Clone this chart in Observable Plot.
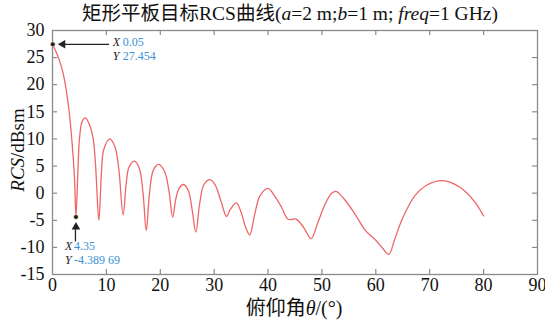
<!DOCTYPE html>
<html>
<head>
<meta charset="utf-8">
<script src="https://cdn.jsdelivr.net/npm/d3@7"></script>
<script src="https://cdn.jsdelivr.net/npm/@observablehq/plot@0.6"></script>
<style>
  html, body { margin: 0; padding: 0; background: #fff; }
  #chart { width: 545px; height: 325px; }
</style>
</head>
<body>
<div id="chart"></div>
<script>
// Pitch angle (deg) and RCS (dBsm)
const angles = [0, 1.1, 2.0, 3.0, 3.6, 4.1, 4.35, 4.75, 5.0, 5.5, 6.1, 6.8, 7.55, 8.0, 8.6,
  9.1, 9.5, 10.65, 11.6, 12.3, 13.1, 13.7, 14.2, 15.2, 16.1, 16.8, 17.4, 18.0, 18.7, 19.7,
  20.8, 21.6, 22.3, 22.9, 23.5, 24.3, 25.2, 25.9, 26.6, 27.3, 28.1, 29.2, 30.2, 31.3, 32.3,
  33.0, 34.1, 35.0, 35.8, 36.6, 37.5, 38.5, 40.0, 41.2, 42.5, 43.7, 45.2, 46.6, 48.0, 49.2,
  50.6, 51.8, 52.7, 54.3, 56.1, 58.0, 59.9, 61.3, 62.4, 63.5, 64.8, 66.0, 67.3, 69.5, 72.2,
  74.5, 76.6, 78.5, 80.0];
const rcs = [27.45, 25.0, 22.0, 15.8, 9.7, 2.4, -4.39, 5, 10, 13.2, 13.9, 12.8, 10, 5, -5.0,
  4, 8, 10.0, 8.5, 4.5, -4.0, 2, 4.8, 5.9, 4.6, 0, -6.9, 0, 4.2, 5.3,
  4, 0.5, -4.4, -1, 0.9, 1.6, 0.5, -3, -7.2, -2, 1.6, 2.5, 1.5, -1.6, -4.3,
  -3, -1.8, -3.5, -6.2, -7.7, -4, -0.5, 0.9, -0.5, -2.6, -4.8, -4.8, -6.3, -8.4, -5.5,
  -2, 0, 0.3, -1.3, -3.8, -6.8, -8.6, -10.2, -11.3, -8.5, -5.0, -2.5, -0.4, 1.5, 2.3,
  1.7, 0.3, -1.8, -4.2];

const xTicks = [0, 10, 20, 30, 40, 50, 60, 70, 80, 90];
const yTicks = [-15, -10, -5, 0, 5, 10, 15, 20, 25, 30];

// Data tips shown in the reference
const tipX = [0.05, 4.35];
const tipY = [27.454, -4.38969];
const tipXText = ["0.05", "4.35"];
const tipYText = ["27.454", "-4.389 69"];

const data = angles.map((a, i) => ({x: a, y: rcs[i]}));
const tips = tipX.map((x, i) => ({x, y: tipY[i], xs: tipXText[i], ys: tipYText[i]}));
const tip1 = [tips[0]], tip2 = [tips[1]];

const W = 545, H = 325, mt = 30, mb = 51, ml = 52, mr = 8;
const iw = W - ml - mr, ih = H - mt - mb;
const serif = "'Liberation Serif', 'Times New Roman', 'Noto Sans CJK SC', serif";
const blue = "#3b8fd6";
const tickCol = "#777";
const fs = 12;

const chart = Plot.plot({
  width: W, height: H,
  marginTop: mt, marginBottom: mb, marginLeft: ml, marginRight: mr,
  x: {domain: [0, 90]},
  y: {domain: [-15, 30]},
  style: {fontFamily: serif, fontSize: "18px", color: "#111", background: "#fff"},
  marks: [
    Plot.axisX({ticks: xTicks, tickSize: 0, tickPadding: 4, label: null, tickFormat: d => String(d), fontSize: 18}),
    Plot.axisY({ticks: yTicks, tickSize: 0, tickPadding: 8, label: null, tickFormat: d => String(d), fontSize: 18}),
    Plot.tickX(xTicks, {x: d => d, insetTop: ih - 5, stroke: tickCol}),
    Plot.tickX(xTicks, {x: d => d, insetBottom: ih - 5, stroke: tickCol}),
    Plot.tickY(yTicks, {y: d => d, insetRight: iw - 5, stroke: tickCol}),
    Plot.tickY(yTicks, {y: d => d, insetLeft: iw - 5, stroke: tickCol}),
    Plot.frame({stroke: "#8a8a8a", strokeWidth: 1.3}),
    Plot.line(data, {x: "x", y: "y", curve: "catmull-rom", stroke: "#ee6666", strokeWidth: 1.3}),
    // tip 1 arrow (horizontal, pointing left to the dot)
    Plot.tickY(tip1, {y: "y", insetLeft: 11, insetRight: iw - 57, stroke: "#222", strokeWidth: 1.3}),
    Plot.dot(tip1, {x: "x", y: "y", dx: 10, symbol: "triangle", rotate: -90, r: 3.2, fill: "#222", stroke: "none"}),
    // tip 2 arrow head (pointing up to the dot)
    Plot.dot(tip2, {x: "x", y: "y", dy: 10, symbol: "triangle", r: 3.2, fill: "#222", stroke: "none"}),
    Plot.dot(tips, {x: "x", y: "y", r: 2.3, fill: "#1a1a1a", stroke: "#e8d99a", strokeWidth: 0.6}),
    // tip labels
    Plot.text(tip1, {x: "x", y: "y", text: () => "X", dx: 60, dy: -2, textAnchor: "start", fontStyle: "italic", fontSize: fs, fill: "#222"}),
    Plot.text(tip1, {x: "x", y: "y", text: "xs", dx: 70, dy: -2, textAnchor: "start", fontSize: fs, fill: blue}),
    Plot.text(tip1, {x: "x", y: "y", text: () => "Y", dx: 60, dy: 12, textAnchor: "start", fontStyle: "italic", fontSize: fs, fill: "#222"}),
    Plot.text(tip1, {x: "x", y: "y", text: "ys", dx: 70, dy: 12, textAnchor: "start", fontSize: fs, fill: blue}),
    Plot.text(tip2, {x: "x", y: "y", text: () => "X", dx: -11, dy: 29.5, textAnchor: "start", fontStyle: "italic", fontSize: fs, fill: "#222"}),
    Plot.text(tip2, {x: "x", y: "y", text: "xs", dx: -2, dy: 29.5, textAnchor: "start", fontSize: fs, fill: blue}),
    Plot.text(tip2, {x: "x", y: "y", text: () => "Y", dx: -11, dy: 43.5, textAnchor: "start", fontStyle: "italic", fontSize: fs, fill: "#222"}),
    Plot.text(tip2, {x: "x", y: "y", text: "ys", dx: -2, dy: 43.5, textAnchor: "start", fontSize: fs, fill: blue})
  ]
});

document.getElementById("chart").appendChild(chart);

// vertical arrow shaft for tip 2 (positioned through the scales)
const sx = chart.scale("x"), sy = chart.scale("y");
const svg = d3.select(chart);
{
  const px = sx.apply(tips[1].x), py = sy.apply(tips[1].y);
  svg.append("line").attr("x1", px).attr("x2", px).attr("y1", py + 12).attr("y2", py + 25)
    .attr("stroke", "#222").attr("stroke-width", 1.3);
}

// Title
const t = svg.append("text").attr("x", 290).attr("y", 20)
  .attr("text-anchor", "middle").attr("font-size", 19.5).attr("fill", "#111")
  .style("font-family", serif);
t.append("tspan").text("矩形平板目标RCS曲线(");
t.append("tspan").attr("font-style", "italic").text("a");
t.append("tspan").text("=2 m;");
t.append("tspan").attr("font-style", "italic").text("b");
t.append("tspan").text("=1 m; ");
t.append("tspan").attr("font-style", "italic").text("freq");
t.append("tspan").text("=1 GHz)");

// X axis label
const xl = svg.append("text").attr("x", 294).attr("y", 315)
  .attr("text-anchor", "middle").attr("font-size", 20).attr("fill", "#111")
  .style("font-family", serif);
xl.append("tspan").text("俯仰角");
xl.append("tspan").attr("font-style", "italic").text("θ");
xl.append("tspan").text("/(°)");

// Y axis label
const yl = svg.append("text").attr("transform", `translate(24,150) rotate(-90)`)
  .attr("text-anchor", "middle").attr("font-size", 19).attr("fill", "#111")
  .style("font-family", serif);
yl.append("tspan").attr("font-style", "italic").text("RCS");
yl.append("tspan").text("/dBsm");
</script>
</body>
</html>
